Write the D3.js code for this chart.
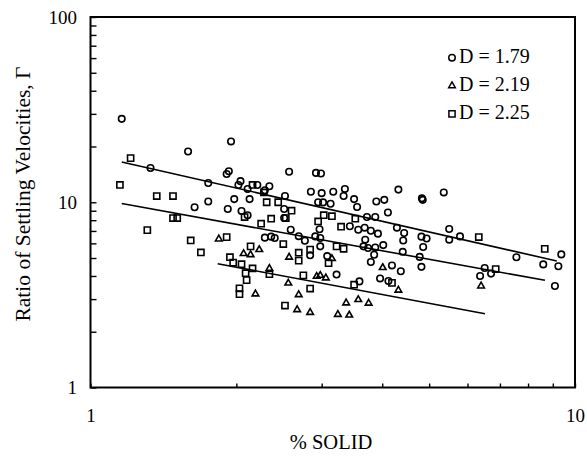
<!DOCTYPE html>
<html>
<head>
<meta charset="utf-8">
<script src="https://cdn.jsdelivr.net/npm/d3@7"></script>
<style>
	body { margin: 0; background: #fff; }
	svg { display: block; }
</style>
</head>
<body>
<div id="chart"></div>
<script>
// D = 1.79 (circles), [% solid, ratio]
const d179 = [
	[1.16, 28.2], [1.59, 18.8], [1.33, 15.3], [1.95, 21.3], [1.93, 14.7], [1.91, 14.2], [2.57, 14.6], [1.75, 12.7], [2.04, 13.0], [2.02, 12.4],
	[2.11, 11.8], [2.21, 12.4], [2.34, 12.2], [2.29, 11.6], [2.52, 10.8], [1.75, 10.1], [1.64, 9.40], [1.98, 10.4], [2.13, 10.4], [1.92, 9.19],
	[2.05, 8.97], [2.11, 8.51], [2.51, 9.19], [2.51, 8.22], [2.59, 7.11], [2.29, 6.44], [2.36, 6.52], [2.40, 6.41], [2.69, 6.56], [2.77, 6.20],
	[2.92, 14.4], [2.99, 14.3], [2.85, 11.4], [3.00, 11.2], [3.17, 11.4], [3.35, 11.8], [3.33, 10.8], [3.50, 10.4], [3.55, 9.42], [3.89, 10.1],
	[4.04, 10.3], [4.11, 8.81], [2.95, 10.0], [3.02, 9.98], [3.13, 9.81], [3.72, 8.32], [3.87, 8.32], [2.97, 7.15], [3.43, 7.42], [3.57, 7.11],
	[3.68, 7.29], [3.79, 7.02], [3.92, 6.77], [2.91, 6.54], [2.98, 6.41], [2.98, 5.78], [2.84, 5.17], [3.69, 6.28], [3.66, 5.78], [3.74, 5.66],
	[3.87, 5.70], [4.02, 5.87], [3.85, 5.21], [3.79, 4.76], [3.08, 5.12], [3.22, 4.07], [3.59, 3.74], [3.96, 3.88], [4.12, 3.76], [4.32, 11.7],
	[4.83, 10.5], [4.85, 10.3], [5.36, 11.3], [4.29, 7.29], [4.44, 6.82], [4.42, 6.22], [4.82, 6.52], [4.94, 6.37], [4.86, 5.73], [4.41, 5.40],
	[4.78, 5.07], [4.82, 4.48], [4.19, 4.56], [5.50, 7.17], [5.50, 6.28], [5.79, 6.54], [4.37, 4.24], [7.57, 5.05], [9.37, 5.23], [8.60, 4.62],
	[9.24, 4.51], [6.51, 4.42], [6.71, 4.12], [6.37, 4.00], [9.09, 3.53]
]

// D = 2.19 (triangles)
const d219 = [
	[1.84, 6.33], [2.07, 5.28], [2.14, 5.21], [2.23, 5.55], [2.34, 4.39], [2.56, 3.66], [2.19, 3.20], [2.57, 5.05], [2.69, 3.17], [2.67, 2.63],
	[4.01, 4.44], [3.15, 4.96], [2.93, 3.98], [2.98, 4.03], [3.06, 3.90], [2.84, 2.54], [3.37, 2.86], [3.57, 2.98], [3.75, 2.85], [3.24, 2.48],
	[3.42, 2.46], [4.32, 3.35], [6.40, 3.53]
]

// D = 2.25 (squares)
const d225 = [
	[1.21, 17.3], [1.15, 12.4], [1.37, 10.8], [1.48, 10.8], [1.48, 8.22], [1.51, 8.22], [1.31, 7.07], [1.61, 6.22], [1.69, 5.36], [2.16, 12.4],
	[2.28, 11.3], [2.31, 10.0], [2.44, 10.0], [2.60, 9.00], [2.08, 8.32], [2.36, 8.15], [2.53, 8.22], [2.25, 7.66], [1.91, 6.48], [2.14, 5.78],
	[1.94, 5.05], [1.97, 4.72], [2.05, 4.63], [2.09, 4.14], [2.10, 3.80], [2.03, 3.43], [2.03, 3.19], [2.16, 4.39], [2.34, 4.09], [2.50, 5.95],
	[2.52, 2.77], [2.69, 5.34], [2.69, 4.84], [2.95, 7.88], [3.03, 8.51], [3.15, 8.41], [3.29, 7.38], [3.52, 8.15], [2.84, 5.55], [3.22, 5.78],
	[3.33, 5.61], [3.10, 4.69], [2.75, 4.03], [2.84, 3.42], [3.50, 3.59], [4.19, 3.67], [6.33, 6.49], [8.66, 5.60], [6.86, 4.36]
]

// fitted lines, start and end of each
const fit179 = [[1.16, 16.5], [9.17, 4.82]]
const fit219 = [[1.83, 4.66], [6.52, 2.50]]
const fit225 = [[1.16, 9.85], [8.67, 3.79]]

const seriesNames = ['D = 1.79', 'D = 2.19', 'D = 2.25']
const xLabels = [1, 10]
const yLabels = [1, 10, 100]
const xTitle = '% SOLID'
const yTitle = 'Ratio of Settling Velocities, Γ'

const font = '"Liberation Serif", "Times New Roman", serif'
const width = 587
const height = 460
const margin = {top: 17, right: 12, bottom: 72.5, left: 90.5}
const w = width - margin.left - margin.right
const h = height - margin.top - margin.bottom

const svg = d3.select('#chart').append('svg')
	.attr('width', width)
	.attr('height', height)
	.style('font-family', font)

const pad = svg.append('g')
	.attr('transform', `translate(${margin.left},${margin.top})`)

const x = d3.scaleLog().domain([1, 10]).range([0, w])
const y = d3.scaleLog().domain([1, 100]).range([h, 0])

// *** axes, ticks point inwards ***
const xAxis = d3.axisBottom(x)
	.tickValues(x.ticks())
	.tickSizeInner(-4)
	.tickSizeOuter(0)
	.tickPadding(21)
	.tickFormat(d => xLabels.includes(d) ? d : '')

const yAxis = d3.axisLeft(y)
	.tickValues(y.ticks())
	.tickSizeInner(-6)
	.tickSizeOuter(0)
	.tickPadding(13.5)
	.tickFormat(d => yLabels.includes(d) ? d : '')

pad.append('g')
	.attr('transform', `translate(0,${h})`)
	.call(xAxis)
	.attr('font-size', 19)
	.attr('font-family', font)
	.call(g => g.select('.domain').remove())
	.call(g => g.selectAll('.tick line').attr('stroke-width', 1.4))

pad.append('g')
	.call(yAxis)
	.attr('font-size', 19)
	.attr('font-family', font)
	.call(g => g.select('.domain').remove())
	.call(g => g.selectAll('.tick line').attr('stroke-width', 1.4))

pad.append('rect')
	.attr('width', w)
	.attr('height', h)
	.attr('fill', 'none')
	.attr('stroke', '#000')
	.attr('stroke-width', 2)

// *** fit lines ***
const line = d3.line()
	.x(d => x(d[0]))
	.y(d => y(d[1]))

for (let fit of [fit179, fit219, fit225]) {
	pad.append('path')
		.attr('d', line(fit))
		.attr('fill', 'none')
		.attr('stroke', '#000')
		.attr('stroke-width', 1.6)
}

// *** points ***
const symbols = [
	d3.symbol().type(d3.symbolCircle).size(33),
	d3.symbol().type(d3.symbolTriangle).size(19),
	d3.symbol().type(d3.symbolSquare).size(38)
]
const series = [d179, d219, d225]

series.forEach((data, i) => {
	pad.append('g')
		.selectAll('path')
		.data(data)
		.enter().append('path')
		.attr('transform', d => `translate(${x(d[0])},${y(d[1])})`)
		.attr('d', symbols[i])
		.attr('fill', 'none')
		.attr('stroke', '#000')
		.attr('stroke-width', 1.6)
})

// *** legend ***
const legend = svg.append('g')
	.attr('transform', 'translate(452,63.3)')

seriesNames.forEach((name, i) => {
	let row = legend.append('g').attr('transform', `translate(0,${i * 28})`)
	row.append('path')
		.attr('transform', 'translate(0,-5.5)')
		.attr('d', symbols[i])
		.attr('fill', 'none')
		.attr('stroke', '#000')
		.attr('stroke-width', 1.5)
	row.append('text')
		.attr('x', 7)
		.attr('font-size', 20)
		.text(name)
})

// *** titles ***
svg.append('text')
	.attr('x', 331)
	.attr('y', 449)
	.attr('text-anchor', 'middle')
	.attr('font-size', 20.5)
	.text(xTitle)

svg.append('text')
	.attr('transform', 'translate(30,194) rotate(-90)')
	.attr('text-anchor', 'middle')
	.attr('font-size', 21.5)
	.text(yTitle)
</script>
</body>
</html>
